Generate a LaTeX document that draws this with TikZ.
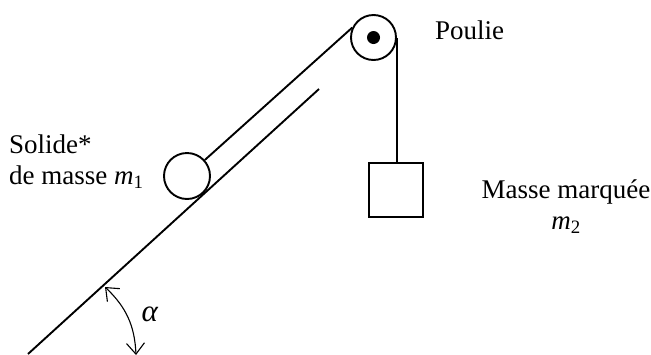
\documentclass[tikz,border=0pt]{standalone}
\usepackage{fontspec}
\setmainfont{Liberation Serif}
\usetikzlibrary{arrows.meta}
\tikzset{
  lbl/.style={inner sep=0pt,align=center,font=\fontsize{27}{31}\selectfont},
  ln/.style={line width=1.9pt,black},
  ang/.style={line width=1.1pt,black,{Straight Barb[length=11pt,width=18pt,line width=1.1pt]}-{Straight Barb[length=11pt,width=18pt,line width=1.1pt]}}
}
\begin{document}
\begin{tikzpicture}[x=1pt,y=-1pt]
\useasboundingbox (0,0) rectangle (651,354);
\coordinate (bas) at (28,354);
\coordinate (haut) at (319,89);
\draw[ln] (bas) -- (haut);
\node[circle,draw,ln,minimum size=45pt,inner sep=0pt] (poulie) at (373.5,37.5) {};
\node[circle,fill=black,minimum size=13pt,inner sep=0pt] (axe) at (373.5,37.5) {};
\node[circle,draw,ln,minimum size=46pt,inner sep=0pt] (solide) at (187,176) {};
\node[draw,ln,minimum size=54pt,inner sep=0pt] (masse) at (396,190) {};
\draw[ln] (solide) -- (poulie.155);
\draw[ln] (poulie.east) -- (masse.north -| poulie.east);
\coordinate (a1) at (105,287);
\coordinate (a2) at (136,355);
\draw[ang] (a1) to[bend left=22] (a2);
\node[lbl,anchor=west] (l1) at (435,30) {Poulie};
\node[lbl,align=left,anchor=north west] (l2) at (9,135) {Solide*\\de masse \textit{m}\textsubscript{1}};
\node[lbl] (l3) at (566,207) {Masse marquée\\\textit{m}\textsubscript{2}};
\node[lbl,font=\fontsize{31}{34}\selectfont] (l4) at (150,314) {\textit{α}};
\end{tikzpicture}
\end{document}
